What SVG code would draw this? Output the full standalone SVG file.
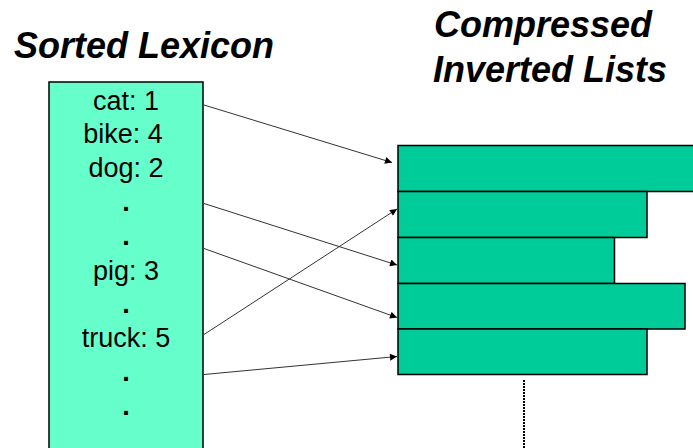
<svg xmlns="http://www.w3.org/2000/svg" width="693" height="448" viewBox="0 0 693 448">
  <style>
    .title { font-family: "Liberation Sans", Arial, sans-serif; font-size: 36px; font-weight: bold; font-style: italic; fill: #000; }
    .entry { font-family: "Liberation Sans", Arial, sans-serif; font-size: 27px; fill: #000; text-anchor: middle; }
    .dot { font-weight: bold; }
    .lexicon { fill: #66FFCC; stroke: #000; stroke-width: 1.5; }
    .list { fill: #00CC99; stroke: #000; stroke-width: 1.5; }
    .link { fill: none; stroke: #333; stroke-width: 1; marker-end: url(#arrow); }
  </style>
  <defs>
    <marker id="arrow" viewBox="0 0 10 10" refX="10" refY="5" markerWidth="9" markerHeight="7" markerUnits="userSpaceOnUse" orient="auto">
      <path d="M0,0 L10,5 L0,10 z" fill="#000"/>
    </marker>
  </defs>

  <rect width="693" height="448" fill="#fff"/>

  <!-- headings -->
  <g id="heading-lexicon">
    <text class="title" x="14" y="58">Sorted Lexicon</text>
  </g>
  <g id="heading-lists">
    <text class="title" x="434" y="37">Compressed</text>
    <text class="title" x="433" y="82">Inverted Lists</text>
  </g>

  <!-- lexicon column -->
  <g id="lexicon">
    <rect class="lexicon" x="49" y="82" width="154" height="380"/>
    <text class="entry" x="126" y="109.5">cat: 1</text>
    <text class="entry" x="123" y="143.4">bike: 4</text>
    <text class="entry" x="126" y="177.3">dog: 2</text>
    <text class="entry dot" x="126" y="211.2">.</text>
    <text class="entry dot" x="126" y="245.1">.</text>
    <text class="entry" x="126" y="280">pig: 3</text>
    <text class="entry dot" x="126" y="313.4">.</text>
    <text class="entry" x="126" y="347.3">truck: 5</text>
    <text class="entry dot" x="126" y="381.2">.</text>
    <text class="entry dot" x="126" y="414.8">.</text>
  </g>

  <!-- inverted lists -->
  <g id="list-1"><rect class="list" x="398" y="145.5" width="300" height="46"/></g>
  <g id="list-2"><rect class="list" x="398" y="191.5" width="249" height="46"/></g>
  <g id="list-3"><rect class="list" x="398" y="237.5" width="216.5" height="46"/></g>
  <g id="list-4"><rect class="list" x="398" y="283.5" width="287" height="45.5"/></g>
  <g id="list-5"><rect class="list" x="398" y="329" width="249" height="45.5"/></g>

  <!-- continuation -->
  <g id="more-lists">
    <line x1="524" y1="380" x2="524" y2="448" stroke="#000" stroke-width="2" stroke-dasharray="2 1"/>
  </g>

  <!-- pointers from lexicon entries to lists -->
  <g id="connectors">
    <line class="link" x1="204" y1="105" x2="392" y2="162.5"/>
    <line class="link" x1="204" y1="203.5" x2="397" y2="265"/>
    <line class="link" x1="204" y1="248.5" x2="397" y2="317.5"/>
    <line class="link" x1="204" y1="334.5" x2="397" y2="209"/>
    <line class="link" x1="204" y1="374.5" x2="397" y2="356.5"/>
  </g>
</svg>
